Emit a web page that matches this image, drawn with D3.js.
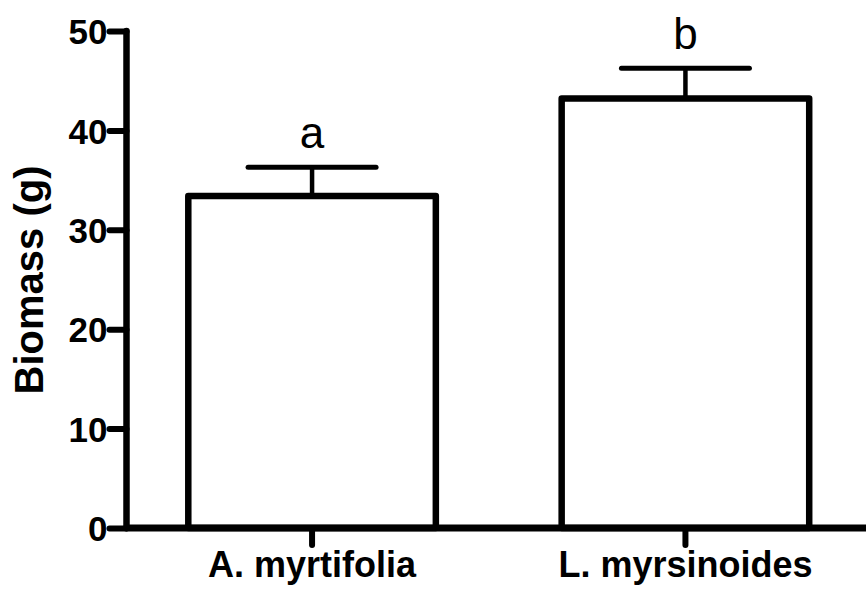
<!DOCTYPE html>
<html>
<head>
<meta charset="utf-8">
<script src="https://cdn.jsdelivr.net/npm/d3@7"></script>
<style>
  html, body { margin: 0; padding: 0; background: #fff; }
  svg { display: block; }
</style>
</head>
<body>
<svg id="chart" width="866" height="592"></svg>
<script>
const categories = ["A. myrtifolia", "L. myrsinoides"];
const means = [33.4, 43.2];
const errors = [2.9, 3.05];
const letters = ["a", "b"];
const yTicks = [0, 10, 20, 30, 40, 50];
const yTitle = "Biomass (g)";

const svg = d3.select("#chart");
const axisX = 126.5, baseY = 528, topY = 31, rightX = 866;
const font = "'Liberation Sans', Arial, Helvetica, sans-serif";

const y = d3.scaleLinear().domain([0, 50]).range([baseY, topY]);
const x = d3.scaleBand().domain(categories).range([126.5, 871]).paddingInner(0.337).paddingOuter(0.1655);

const g = svg.append("g");

// bars
g.selectAll("rect.bar").data(categories).enter().append("rect")
  .attr("class", "bar")
  .attr("x", d => x(d))
  .attr("y", (d, i) => y(means[i]))
  .attr("width", x.bandwidth())
  .attr("height", (d, i) => baseY - y(means[i]))
  .attr("fill", "#fff").attr("stroke", "#000").attr("stroke-width", 6.5)
  .attr("stroke-linejoin", "round");

// error bars
const capHalf = 64;
g.selectAll("line.err").data(categories).enter().append("line")
  .attr("x1", d => x(d) + x.bandwidth() / 2).attr("x2", d => x(d) + x.bandwidth() / 2)
  .attr("y1", (d, i) => y(means[i])).attr("y2", (d, i) => y(means[i] + errors[i]))
  .attr("stroke", "#000").attr("stroke-width", 4.5);
g.selectAll("line.cap").data(categories).enter().append("line")
  .attr("x1", d => x(d) + x.bandwidth() / 2 - capHalf).attr("x2", d => x(d) + x.bandwidth() / 2 + capHalf)
  .attr("y1", (d, i) => y(means[i] + errors[i])).attr("y2", (d, i) => y(means[i] + errors[i]))
  .attr("stroke", "#000").attr("stroke-width", 5).attr("stroke-linecap", "round");

// letters
g.selectAll("text.sig").data(categories).enter().append("text")
  .attr("x", d => x(d) + x.bandwidth() / 2)
  .attr("y", (d, i) => y(means[i] + errors[i]) - 19.5)
  .attr("text-anchor", "middle")
  .attr("font-family", font).attr("font-size", 44)
  .text((d, i) => letters[i]);

// y axis
const yAxis = g.append("g").attr("transform", `translate(${axisX},0)`)
  .call(d3.axisLeft(y).tickValues(yTicks).tickSize(17).tickPadding(2).tickFormat(d3.format("d")));
yAxis.select(".domain").remove();
yAxis.selectAll(".tick line").attr("stroke", "#000").attr("stroke-width", 6).attr("stroke-linecap", "round");
yAxis.selectAll(".tick text").attr("font-family", font).attr("font-size", 35).attr("font-weight", "bold")
  .attr("fill", "#000").attr("dy", "0.36em");
g.append("line").attr("x1", axisX).attr("x2", axisX).attr("y1", topY).attr("y2", baseY)
  .attr("stroke", "#000").attr("stroke-width", 6.5).attr("stroke-linecap", "round");

// x axis
const xAxis = g.append("g").attr("transform", `translate(0,${baseY})`)
  .call(d3.axisBottom(x).tickSize(17).tickPadding(6));
xAxis.select(".domain").remove();
xAxis.selectAll(".tick line").attr("stroke", "#000").attr("stroke-width", 6).attr("stroke-linecap", "round");
xAxis.selectAll(".tick text").attr("font-family", font).attr("font-size", 36).attr("font-weight", "bold")
  .attr("fill", "#000").attr("dy", "0.71em");
g.append("line").attr("x1", axisX).attr("x2", rightX + 5).attr("y1", baseY).attr("y2", baseY)
  .attr("stroke", "#000").attr("stroke-width", 7).attr("stroke-linecap", "round");

// y title
g.append("text")
  .attr("transform", `translate(43,280) rotate(-90)`)
  .attr("text-anchor", "middle")
  .attr("font-family", font).attr("font-size", 40).attr("font-weight", "bold")
  .text(yTitle);
</script>
</body>
</html>
